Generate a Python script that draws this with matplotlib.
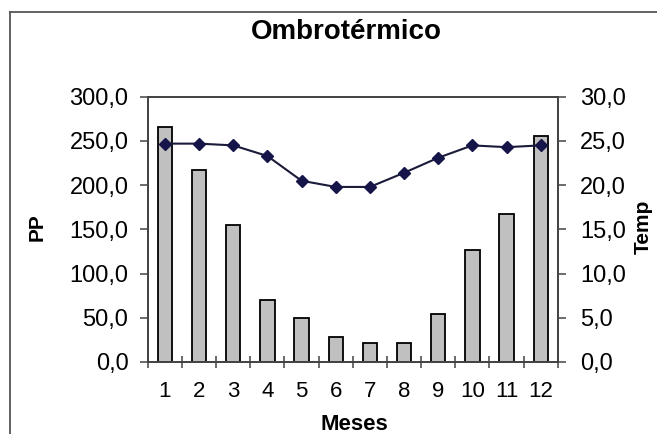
import matplotlib
matplotlib.use("Agg")
import matplotlib.pyplot as plt
from matplotlib.ticker import FuncFormatter, MultipleLocator
from matplotlib.lines import Line2D

plt.rcParams['font.family'] = ['Liberation Sans', 'DejaVu Sans']

# ---- data ----
meses = [1, 2, 3, 4, 5, 6, 7, 8, 9, 10, 11, 12]
pp = [266, 217, 155, 70, 50, 28, 21, 21, 54, 127, 167, 256]
temp = [24.7, 24.7, 24.5, 23.3, 20.5, 19.8, 19.8, 21.4, 23.1, 24.5, 24.3, 24.5]

coma = FuncFormatter(lambda v, p: f"{v:.1f}".replace('.', ','))

fig = plt.figure(figsize=(6.57, 4.34), dpi=100)
ax = fig.add_axes([0.225, 0.166, 0.624, 0.611])

ax.bar(meses, pp, width=0.42, color='#c0c0c0', edgecolor='black', linewidth=1.3, zorder=2)
ax.set_xlim(0.5, 12.5)
ax.set_ylim(0, 300)
ax.yaxis.set_major_locator(MultipleLocator(50))
ax.yaxis.set_major_formatter(coma)
ax.set_xticks(meses)
ax.set_xticks([x + 0.5 for x in range(0, 13)], minor=True)
ax.tick_params(axis='x', which='major', length=0, labelsize=16, pad=14)
ax.tick_params(axis='x', which='minor', direction='inout', length=9, width=1.1, color='#444444')
ax.tick_params(axis='y', direction='out', length=6, width=1.1, labelsize=17, color='#444444', pad=8)
for s in ax.spines.values():
    s.set_color('#444444')
    s.set_linewidth(1.3)

ax2 = ax.twinx()
ax2.plot(meses, temp, color='#1a1a3a', linewidth=1.5, marker='D', markersize=6.5,
         markerfacecolor='#15154a', markeredgecolor='#15154a', zorder=3)
ax2.set_ylim(0, 30)
ax2.yaxis.set_major_locator(MultipleLocator(5))
ax2.yaxis.set_major_formatter(coma)
ax2.tick_params(axis='y', direction='out', length=6, width=1.1, labelsize=17, color='#444444', pad=10)
for s in ax2.spines.values():
    s.set_color('#444444')
    s.set_linewidth(1.3)

# titles
fig.text(0.527, 0.926, "Ombrotérmico", fontsize=20, fontweight='bold', ha='center', va='center')
fig.text(37 / 657, 1 - 227 / 434, "PP", fontsize=15, fontweight='bold', rotation=90,
         ha='center', va='center')
fig.text(643 / 657, 1 - 227 / 434, "Temp", fontsize=15, fontweight='bold', rotation=90,
         ha='center', va='center')
fig.text(354 / 657, 1 - 424 / 434, "Meses", fontsize=16, fontweight='bold',
         ha='center', va='center')

# outer chart frame (cut off at right and bottom)
fig.add_artist(Line2D([0.015, 0.015], [0, 0.972], color='#555555', linewidth=1.3,
                      transform=fig.transFigure))
fig.add_artist(Line2D([0.015, 1.0], [0.972, 0.972], color='#555555', linewidth=1.3,
                      transform=fig.transFigure))

fig.savefig("out.png", dpi=100)
